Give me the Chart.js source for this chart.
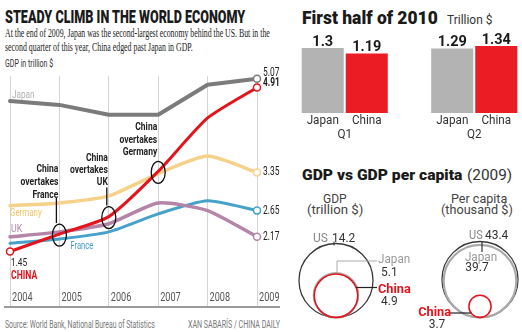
<!DOCTYPE html>
<html lang="en">
<head>
<meta charset="UTF-8">
<title>Steady climb in the world economy</title>
<script src="https://cdn.jsdelivr.net/npm/chart.js"></script>
<style>
  html, body { margin: 0; padding: 0; background: #fff; }
  body { width: 522px; height: 332px; position: relative; overflow: hidden; font-family: Roboto, sans-serif; color: #222; }
  .t { position: absolute; white-space: nowrap; line-height: 1; transform-origin: 0 50%; }
  canvas { position: absolute; }
  #base { position: absolute; left: 4px; top: 306px; width: 276px; height: 1.5px; background: #9a9a9a; }
</style>
</head>
<body>
  <div class="t" data-w="240" style="left:5px; top:7.5px; font-weight:900; font-size:18px; color:#1a1a1a">STEADY CLIMB IN THE WORLD ECONOMY</div>
  <div class="t" data-w="265" style="left:5px; top:26.5px; font-family:'Liberation Serif'; font-size:12.5px">At the end of 2009, Japan was the second-largest economy behind the US. But in the</div>
  <div class="t" data-w="188" style="left:5px; top:40.5px; font-family:'Liberation Serif'; font-size:12.5px">second quarter of this year, China edged past Japan in GDP.</div>
  <div class="t" data-w="48" style="left:5px; top:59px; font-size:10px; color:#333">GDP in trillion $</div>

  <div class="t" data-w="136" style="left:302px; top:8px; font-weight:900; font-size:19px; color:#1a1a1a">First half of 2010</div>
  <div class="t" data-w="45" style="left:446.5px; top:13px; font-size:13px; color:#333">Trillion $</div>

  <div class="t" data-w="160" style="left:302px; top:167.5px; font-weight:900; font-size:14px; color:#1a1a1a">GDP vs GDP per capita</div>
  <div class="t" data-w="45" style="left:467px; top:167.5px; font-size:14px; color:#333">(2009)</div>
  <div class="t" data-w="24" style="left:323px; top:192px; font-size:13px; color:#444">GDP</div>
  <div class="t" data-w="56" style="left:307px; top:202.5px; font-size:13px; color:#444">(trillion $)</div>
  <div class="t" data-w="56" style="left:451px; top:192px; font-size:13px; color:#444">Per capita</div>
  <div class="t" data-w="72" style="left:441px; top:202.5px; font-size:13px; color:#444">(thousand $)</div>

  <div class="t" data-w="150" style="left:5px; top:319.5px; font-size:10px; color:#777">Source: World Bank, National Bureau of Statistics</div>
  <div class="t" data-w="92" style="left:188px; top:319.5px; font-size:10px; color:#777">XAN SABARÍS / CHINA DAILY</div>
  <div id="base"></div>

  <canvas id="lineChart" width="290" height="264" style="left:0; top:56px"></canvas>
  <canvas id="barChart" width="259" height="115" style="left:280px; top:30px"></canvas>
  <canvas id="bubbleChart" width="258" height="110" style="left:264px; top:222px"></canvas>

<script>
// GDP in trillion $, as drawn (China 2004 is plotted near 1.9 although labelled 1.45)
const years = ['2004', '2005', '2006', '2007', '2008', '2009'];
const japan = [4.66, 4.59, 4.41, 4.41, 4.96, 5.07];
const china = [1.90, 2.22, 2.54, 3.37, 4.35, 4.91];
const germany = [2.74, 2.79, 2.92, 3.33, 3.65, 3.35];
const uk = [2.17, 2.26, 2.41, 2.79, 2.65, 2.17];
const france = [2.05, 2.13, 2.26, 2.59, 2.83, 2.65];
const chinaStartLabel = '1.45';
const overtakes = [
  { year: '2005', lines: ['China', 'overtakes', 'France'] },
  { year: '2006', lines: ['China', 'overtakes', 'UK'] },
  { year: '2007', lines: ['China', 'overtakes', 'Germany'] }
];

// first half of 2010, trillion $
const quarters = ['Q1', 'Q2'];
const japanQ = [1.3, 1.29];
const chinaQ = [1.19, 1.34];

// 2009: GDP trillion $, GDP per capita thousand $
const bubbleCountries = ['China', 'Japan', 'US'];
const gdp2009 = [4.9, 5.1, 14.2];
const perCapita2009 = [3.7, 39.7, 43.4];

// fit html texts to their measured widths
document.querySelectorAll('.t[data-w]').forEach(el => {
  const w = +el.dataset.w;
  el.style.transform = 'scaleX(' + (w / el.offsetWidth) + ')';
});

function txt(ctx, s, x, y, o) {
  ctx.save();
  ctx.font = o.font || '11px Roboto';
  ctx.fillStyle = o.color || '#222';
  ctx.textBaseline = 'middle';
  ctx.textAlign = o.align || 'left';
  ctx.translate(x, y);
  ctx.scale(o.sx || 0.75, 1);
  ctx.fillText(s, 0, 0);
  ctx.restore();
}
function seg(ctx, pts, color, w) {
  ctx.save();
  ctx.strokeStyle = color; ctx.lineWidth = w;
  ctx.beginPath();
  pts.forEach((p, i) => i ? ctx.lineTo(p[0], p[1]) : ctx.moveTo(p[0], p[1]));
  ctx.stroke();
  ctx.restore();
}

const C = { japan: '#7b7b7b', china: '#e5131c', germany: '#f6d18a', uk: '#b585a8', france: '#46a2c9' };

// ---------- line chart ----------
function endPoints(idxs) {
  return ctx => idxs.includes(ctx.dataIndex) ? 3.5 : 0;
}
function lineSet(label, data, color, width, tension, marks) {
  return {
    label, data, borderColor: color, borderWidth: width, tension,
    borderCapStyle: 'round', borderJoinStyle: 'round',
    pointRadius: endPoints(marks), pointBackgroundColor: '#fff',
    pointBorderColor: color, pointBorderWidth: 1.5, clip: false
  };
}

const linePlugin = {
  id: 'lineLabels',
  afterDatasetsDraw(chart) {
    const { ctx, chartArea: a, scales: { x } } = chart;
    const pt = (ds, i) => chart.getDatasetMeta(ds).data[i];
    // year labels
    years.forEach((y, i) => txt(ctx, y, x.getPixelForValue(i) + 2, a.bottom - 8.5, { font: '12px Roboto', color: '#555', sx: 0.76 }));
    // overtakes callouts
    const lay = [
      { dy: [-65, -52, -39], line: [-3, -36, -11] },
      { dy: [-58, -46, -34], line: [-2, -29, -11] },
      { dy: [-44, -31.5, -19], line: null }
    ];
    overtakes.forEach((o, k) => {
      const p = pt(0, years.indexOf(o.year));
      ctx.save();
      ctx.strokeStyle = '#111'; ctx.lineWidth = 1.3;
      ctx.beginPath(); ctx.ellipse(p.x, p.y + 1, 7, 11, 0, 0, Math.PI * 2); ctx.stroke();
      ctx.restore();
      o.lines.forEach((s, j) => txt(ctx, s, p.x - 1, p.y + lay[k].dy[j], { font: 'bold 11.5px Roboto', color: '#222', align: 'right', sx: 0.74 }));
      const l = lay[k].line;
      if (l) seg(ctx, [[p.x + l[0], p.y + l[1]], [p.x + l[0], p.y + l[2]]], '#111', 1.3);
    });
    // series names
    let p = pt(1, 0); txt(ctx, 'Japan', p.x + 2, p.y - 6, { font: '10.5px Roboto', color: '#b0b0b0', sx: 0.78 });
    p = pt(2, 0); txt(ctx, 'Germany', p.x, p.y + 8, { font: '11px Roboto', color: '#f0c566', sx: 0.72 });
    p = pt(3, 0); txt(ctx, 'UK', p.x + 1, p.y - 8, { font: '11px Roboto', color: '#b585a8', sx: 0.8 });
    p = pt(4, 1); txt(ctx, 'France', p.x + 11, p.y + 7, { font: '10.5px Roboto', color: '#3f9cc6', sx: 0.72 });
    p = pt(0, 0);
    txt(ctx, chinaStartLabel, p.x + 1, p.y + 11.5, { font: '11.5px Roboto', color: '#222', sx: 0.72 });
    txt(ctx, 'CHINA', p.x + 1, p.y + 25, { font: 'bold 12px Roboto', color: C.china, sx: 0.72 });
    // end values
    const last = years.length - 1;
    const ends = [[1, -5.5, ''], [0, -4.5, 'bold '], [2, 0, ''], [4, 0, ''], [3, 0, '']];
    ends.forEach(([ds, dy, w]) => {
      const q = pt(ds, last);
      const v = chart.data.datasets[ds].data[last];
      txt(ctx, v.toFixed(2), q.x + 6, q.y + dy, { font: w + '12px Roboto', color: '#222', sx: 0.7 });
    });
  }
};

new Chart(document.getElementById('lineChart'), {
  type: 'line',
  data: {
    labels: years,
    datasets: [
      lineSet('China', china, C.china, 3, 0.2, [0, 5]),
      lineSet('Japan', japan, C.japan, 4, 0, [5]),
      lineSet('Germany', germany, C.germany, 3.5, 0.2, [5]),
      lineSet('UK', uk, C.uk, 3.5, 0.2, [5]),
      lineSet('France', france, C.france, 3, 0.2, [5])
    ]
  },
  options: {
    responsive: false, animation: false,
    layout: { autoPadding: false, padding: { left: 10, right: 33, top: 20, bottom: 14 } },
    plugins: { legend: { display: false }, tooltip: { enabled: false } },
    scales: {
      x: { offset: false, grid: { color: '#d4d4d4', lineWidth: 1, drawTicks: false }, border: { display: false }, ticks: { display: false } },
      y: { display: false, min: 0.9, max: 5.12 }
    }
  },
  plugins: [linePlugin]
});

// ---------- bar chart ----------
const barPlugin = {
  id: 'barLabels',
  afterDatasetsDraw(chart) {
    const { ctx, chartArea: a, scales: { x } } = chart;
    chart.data.datasets.forEach((ds, d) => {
      chart.getDatasetMeta(d).data.forEach((bar, i) => {
        ctx.save();
        ctx.font = 'bold 14.5px Roboto'; ctx.fillStyle = '#1a1a1a';
        ctx.textAlign = 'center'; ctx.textBaseline = 'alphabetic';
        ctx.fillText(String(ds.data[i]), bar.x, bar.y - 2.5);
        ctx.restore();
        txt(ctx, ds.label, bar.x, a.bottom + 7.5, { font: '13px Roboto', color: '#333', sx: 0.9, align: 'center' });
      });
    });
    quarters.forEach((q, i) => txt(ctx, q, x.getPixelForValue(i), a.bottom + 22, { font: '13px Roboto', color: '#333', sx: 0.9, align: 'center' }));
  }
};

new Chart(document.getElementById('barChart'), {
  type: 'bar',
  data: {
    labels: quarters,
    datasets: [
      { label: 'Japan', data: japanQ, backgroundColor: '#b3b3b3', categoryPercentage: 0.68, barPercentage: 0.955 },
      { label: 'China', data: chinaQ, backgroundColor: '#ec1c24', categoryPercentage: 0.68, barPercentage: 0.955 }
    ]
  },
  options: {
    responsive: false, animation: false,
    layout: { autoPadding: false, padding: { left: 0, right: 0, top: 8, bottom: 32 } },
    plugins: { legend: { display: false }, tooltip: { enabled: false } },
    scales: { x: { display: false }, y: { display: false, min: 0, max: 1.5 } }
  },
  plugins: [barPlugin]
});

// ---------- nested circles ----------
// circle area is proportional to value; circles rest on a common base line
const GDP_K = 9.82, CAP_K = 5.77;
function circles(i) {
  const r1 = GDP_K * Math.sqrt(gdp2009[i]);
  const r2 = CAP_K * Math.sqrt(perCapita2009[i]);
  return [{ x: 1, y: r1, r: r1 }, { x: 3, y: r2, r: r2 }];
}
const circleStyle = [
  { color: '#e5131c', w: 1.5 },
  { color: '#a9a9a9', w: 2.2 },
  { color: '#3a3a3a', w: 1.3 }
];

const bubblePlugin = {
  id: 'bubbleLabels',
  afterDatasetsDraw(chart) {
    const { ctx, chartArea: a } = chart;
    const el = (d, i) => {
      const e = chart.getDatasetMeta(d).data[i];
      return { x: e.x, y: e.y, r: e.options.radius };
    };
    const b = a.bottom;
    const reg = '13px Roboto', bold = 'bold 13px Roboto';
    // GDP group
    let c = el(0, 0), j = el(1, 0), u = el(2, 0);
    let cx = u.x;
    txt(ctx, 'US', cx - 23, u.y - u.r - 5, { font: reg, color: '#888', sx: 0.92 });
    txt(ctx, gdp2009[2].toFixed(1), cx - 4, u.y - u.r - 5, { font: reg, color: '#333', sx: 0.92 });
    seg(ctx, [[cx - 2, u.y - u.r - 2], [cx - 2, u.y - u.r + 2]], '#333', 1);
    seg(ctx, [[j.x + 1, j.y - j.r], [j.x + 1, b - 56.5], [cx + 41, b - 56.5]], '#aaa', 1);
    txt(ctx, 'Japan', cx + 42, b - 57.5, { font: reg, color: '#9a9a9a', sx: 0.9 });
    txt(ctx, gdp2009[1].toFixed(1), cx + 45, b - 44.5, { font: reg, color: '#333', sx: 0.92 });
    let yy = b - 30;
    seg(ctx, [[c.x + Math.sqrt(c.r * c.r - (c.y - yy) * (c.y - yy)), yy], [cx + 41, yy]], '#222', 1.2);
    txt(ctx, 'China', cx + 42, b - 28, { font: bold, color: '#e5131c', sx: 0.98 });
    txt(ctx, gdp2009[0].toFixed(1), cx + 45, b - 15.5, { font: reg, color: '#333', sx: 0.92 });
    // per capita group
    c = el(0, 1); j = el(1, 1); u = el(2, 1);
    cx = u.x;
    txt(ctx, 'US', cx - 11, b - 81.5, { font: reg, color: '#888', sx: 0.85 });
    txt(ctx, perCapita2009[2].toFixed(1), cx + 5, b - 81.5, { font: reg, color: '#333', sx: 0.92 });
    seg(ctx, [[cx + 2, u.y - u.r], [cx + 2, b - 65.5]], '#333', 1.2);
    txt(ctx, 'Japan', cx + 1, b - 59.5, { font: reg, color: '#9a9a9a', sx: 0.9, align: 'center' });
    txt(ctx, perCapita2009[1].toFixed(1), cx - 3, b - 49.5, { font: reg, color: '#333', sx: 0.92, align: 'center' });
    yy = b - 4.5;
    seg(ctx, [[cx - 30, yy], [c.x - Math.sqrt(c.r * c.r - (c.y - yy) * (c.y - yy)), yy]], '#222', 1.2);
    txt(ctx, 'China', cx - 29, yy, { font: bold, color: '#e5131c', sx: 0.98, align: 'right' });
    txt(ctx, perCapita2009[0].toFixed(1), cx - 43, b + 7, { font: reg, color: '#333', sx: 0.92, align: 'center' });
  }
};

new Chart(document.getElementById('bubbleChart'), {
  type: 'bubble',
  data: {
    datasets: bubbleCountries.map((name, i) => ({
      label: name, data: circles(i),
      backgroundColor: 'rgba(0,0,0,0)', borderColor: circleStyle[i].color,
      borderWidth: circleStyle[i].w, hoverBorderWidth: circleStyle[i].w, clip: false
    }))
  },
  options: {
    responsive: false, animation: false,
    layout: { autoPadding: false, padding: { left: 0, right: 0, top: 0, bottom: 14.5 } },
    plugins: { legend: { display: false }, tooltip: { enabled: false } },
    scales: {
      x: { type: 'linear', display: false, min: 0, max: 258 / 72 },
      y: { type: 'linear', display: false, min: 0, max: 95.5 }
    }
  },
  plugins: [bubblePlugin]
});
</script>
</body>
</html>
